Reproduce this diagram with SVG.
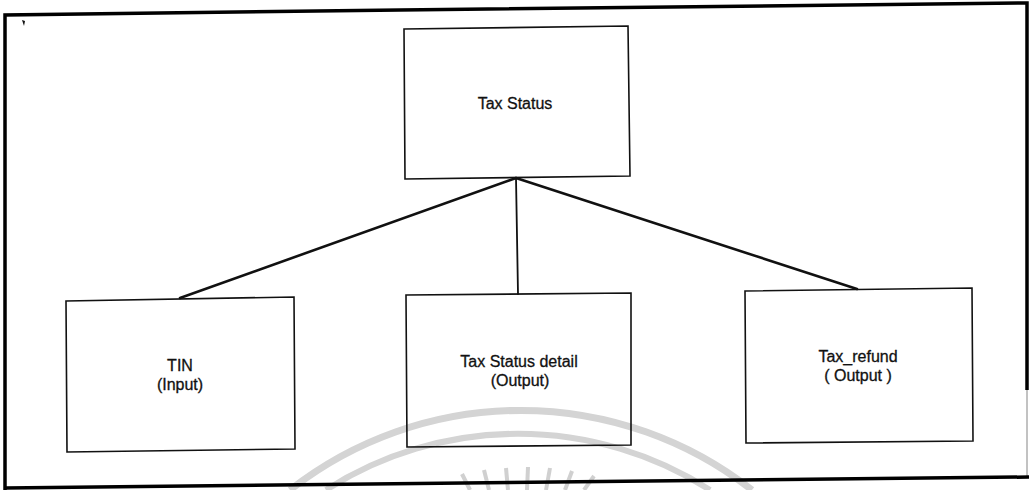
<svg xmlns="http://www.w3.org/2000/svg" width="1029" height="490" viewBox="0 0 1029 490">
<style>
.box{fill:none;stroke:#111;stroke-width:1.6}
.lbl{font-family:"Liberation Sans",Arial,sans-serif;font-size:16px;fill:#111;stroke:#111;stroke-width:0.3;text-anchor:middle}
.conn{stroke:#111;fill:none;stroke-linecap:round}
.frame{stroke:#000;fill:none;stroke-width:3.5}
.wm{stroke:#d4d4d4;fill:none}
</style>
<rect width="1029" height="490" fill="#fff"/>
<g id="watermark">
<path class="wm" stroke-width="7" d="M 290 490 A 375 375 0 0 1 752 490"/>
<path class="wm" stroke-width="6" d="M 326 490 A 356 356 0 0 1 710 490"/>
<g stroke="#d0d0d0" stroke-width="4">
<line x1="462" y1="474" x2="470" y2="490"/>
<line x1="484" y1="470" x2="489" y2="490"/>
<line x1="506" y1="468" x2="508" y2="490"/>
<line x1="528" y1="467" x2="527" y2="490"/>
<line x1="550" y1="468" x2="546" y2="490"/>
<line x1="572" y1="471" x2="565" y2="490"/>
<line x1="594" y1="476" x2="584" y2="490"/>
</g>
</g>
<g id="frame">
<path class="frame" d="M 5 490 L 5 15 L 400 10 L 1027 3 L 1027 390"/>
<path d="M 1027 390 L 1027 478" stroke="#999" stroke-width="1.2" fill="none"/>
<path class="frame" d="M 5 488 L 1029 477"/>
<path d="M 22 20 l 3 1 l -1 5 z" fill="#111"/>
</g>
<g id="connectors">
<line class="conn" stroke-width="2.6" x1="516" y1="178" x2="180" y2="298"/>
<line class="conn" stroke-width="1.8" x1="516" y1="178" x2="518" y2="294"/>
<line class="conn" stroke-width="2.6" x1="516" y1="178" x2="857" y2="289"/>
</g>
<g id="node-tax-status">
<path class="box" d="M 404 29 L 628 26 L 630 176 L 405 179 Z"/>
<text class="lbl" x="515" y="109">Tax Status</text>
</g>
<g id="node-tin">
<path class="box" d="M 66 301 L 294 297 L 295 449 L 67 452 Z"/>
<text class="lbl" x="180" y="371">TIN</text>
<text class="lbl" x="180" y="390">(Input)</text>
</g>
<g id="node-tax-status-detail">
<path class="box" d="M 406 295 L 631 293 L 631 445 L 407 447 Z"/>
<text class="lbl" x="519" y="367">Tax Status detail</text>
<text class="lbl" x="520" y="386">(Output)</text>
</g>
<g id="node-tax-refund">
<path class="box" d="M 745 291 L 972 288 L 973 441 L 746 443 Z"/>
<text class="lbl" x="858" y="362">Tax_refund</text>
<text class="lbl" x="858" y="381">( Output )</text>
</g>
</svg>
